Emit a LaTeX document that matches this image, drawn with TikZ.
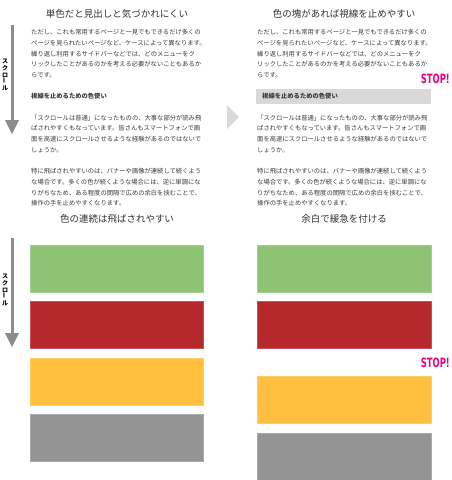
\documentclass[tikz,border=0pt]{standalone}
\usepackage{fontspec}
\usepackage{graphicx}
\newfontfamily\jp{Noto Sans CJK JP}
\newfontfamily\stopfont{DejaVu Sans}
\definecolor{txt}{HTML}{3A3A3A}
\definecolor{ttl}{HTML}{333333}
\definecolor{arrowgray}{HTML}{8C8C8C}
\definecolor{trigray}{HTML}{D9D9D9}
\definecolor{barlight}{HTML}{D9D9D9}
\definecolor{cgreen}{HTML}{8FC374}
\definecolor{cred}{HTML}{B5292D}
\definecolor{cyellow}{HTML}{FFBF3F}
\definecolor{cgray}{HTML}{949494}
\definecolor{stopc}{HTML}{E6007E}
\begin{document}
\begin{tikzpicture}[x=1pt,y=-1pt,
  body/.style={anchor=west,inner sep=0pt,font=\jp\fontsize{6.3}{7}\selectfont,text=txt},
  bodyhead/.style={anchor=west,inner sep=0pt,font=\jp\bfseries\fontsize{6.3}{7}\selectfont,text=txt},
  ttlstyle/.style={inner sep=0pt,font=\jp\fontsize{9.5}{10}\selectfont,text=ttl},
  vtext/.style={inner sep=0pt,align=center,font=\jp\bfseries\fontsize{6}{6.8}\selectfont,text=black},
  blockbox/.style={draw=#1!80!white,line width=0.6pt,fill=#1},
  scrollline/.style={line width=3pt,draw=arrowgray},
  stopmark/.style={inner sep=0pt,text=stopc}]
\useasboundingbox (0,0) rectangle (451,480);
\fill[white] (0,0) rectangle (451,480);

% ---------- titles ----------
\node[ttlstyle] (t1) at (117,14) {単色だと見出しと気づかれにくい};
\node[ttlstyle] (t2) at (344,14) {色の塊があれば視線を止めやすい};
\node[ttlstyle] (t3) at (117,219) {色の連続は飛ばされやすい};
\node[ttlstyle] (t4) at (344,219) {余白で緩急を付ける};

% ---------- scroll arrows ----------
\coordinate (a1s) at (12,25);
\coordinate (a1e) at (12,121);
\draw[scrollline] (a1s) -- (a1e);
\fill[arrowgray] (5,120) -- (19,120) -- (12,134) -- cycle;
\node[vtext] (v1) at (5,75) {ス\\ク\\ロ\\\rotatebox{90}{ー}\\ル};

\coordinate (a2s) at (12,238);
\coordinate (a2e) at (12,334);
\draw[scrollline] (a2s) -- (a2e);
\fill[arrowgray] (5,333) -- (19,333) -- (12,347) -- cycle;
\node[vtext] (v2) at (5,290) {ス\\ク\\ロ\\\rotatebox{90}{ー}\\ル};

% ---------- middle triangle ----------
\fill[trigray] (227,105) -- (239,117) -- (227,129) -- cycle;

% ---------- right heading bar ----------
\fill[barlight] (256,89) rectangle (431,104);

% ---------- text blocks ----------
\foreach \xx/\hx/\nm in {31/31/L,257/262/R}{
  \node[body] (\nm p1a) at (\xx,32.3) {ただし、これも常用するページと一見でもできるだけ多くの};
  \node[body] (\nm p1b) at (\xx,43.0) {ページを見られたいページなど、ケースによって異なります。};
  \node[body] (\nm p1c) at (\xx,53.7) {繰り返し利用するサイドバーなどでは、どのメニューをク};
  \node[body] (\nm p1d) at (\xx,64.4) {リックしたことがあるのかを考える必要がないこともあるか};
  \node[body] (\nm p1e) at (\xx,75.1) {らです。};
  \node[bodyhead] (\nm h) at (\hx,96.5) {視線を止めるための色使い};
  \node[body] (\nm p2a) at (\xx,117.9) {「スクロールは普通」になったものの、大事な部分が読み飛};
  \node[body] (\nm p2b) at (\xx,128.6) {ばされやすくもなっています。皆さんもスマートフォンで画};
  \node[body] (\nm p2c) at (\xx,139.3) {面を高速にスクロールさせるような経験があるのではないで};
  \node[body] (\nm p2d) at (\xx,150.0) {しょうか。};
  \node[body] (\nm p3a) at (\xx,171.4) {特に飛ばされやすいのは、バナーや画像が連続して続くよう};
  \node[body] (\nm p3b) at (\xx,182.1) {な場合です。多くの色が続くような場合には、逆に単調にな};
  \node[body] (\nm p3c) at (\xx,192.8) {りがちなため、ある程度の間隔で広めの余白を挟むことで、};
  \node[body] (\nm p3d) at (\xx,203.5) {操作の手を止めやすくなります。};
}

% ---------- STOP marks ----------
\node[stopmark,anchor=east] (s1) at (450,79) {\resizebox{29pt}{9.5pt}{\stopfont\bfseries STOP!}};
\node[stopmark,anchor=east] (s2) at (450,363) {\resizebox{29pt}{9.5pt}{\stopfont\bfseries STOP!}};

% ---------- colour blocks, left ----------
\draw[blockbox=cgreen]  (30,245) rectangle (203,292);
\draw[blockbox=cred]    (30,301) rectangle (203,348);
\draw[blockbox=cyellow] (30,358) rectangle (203,405);
\draw[blockbox=cgray]   (30,414) rectangle (203,461);

% ---------- colour blocks, right ----------
\draw[blockbox=cgreen]  (257,245) rectangle (431,292);
\draw[blockbox=cred]    (257,301) rectangle (431,348);
\draw[blockbox=cyellow] (257,376) rectangle (431,423);
\draw[blockbox=cgray]   (257,433) rectangle (431,480);
\end{tikzpicture}
\end{document}
